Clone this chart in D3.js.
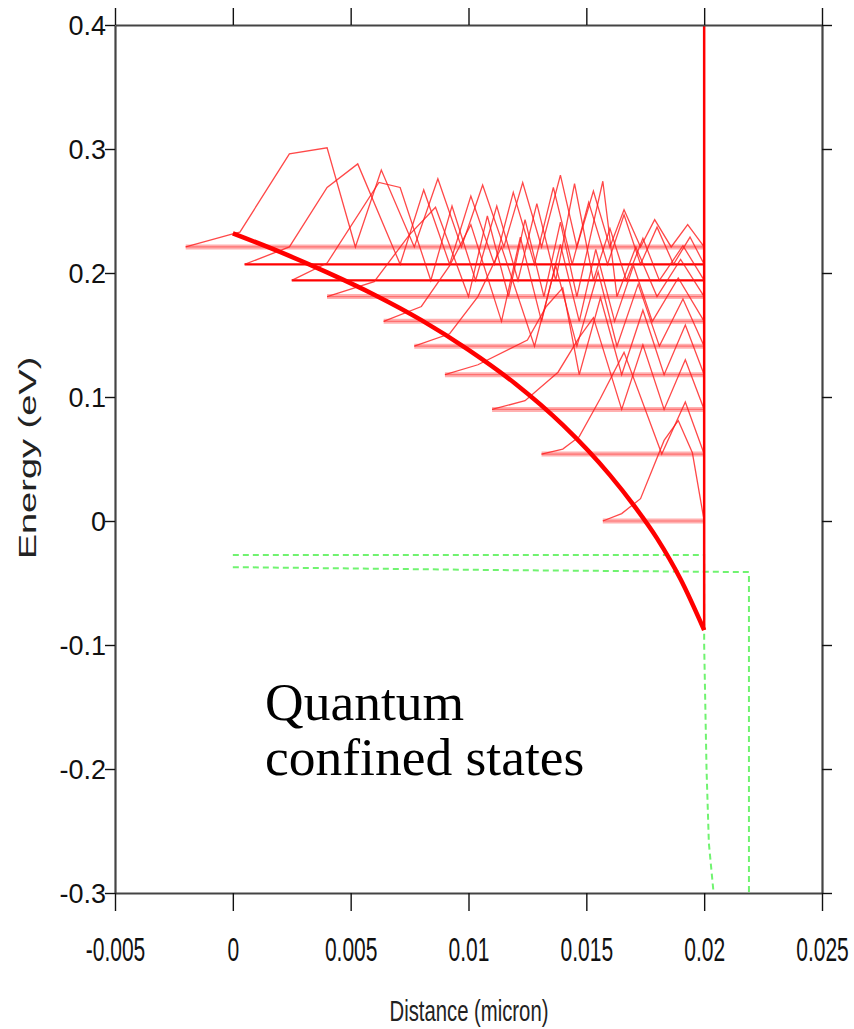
<!DOCTYPE html>
<html><head><meta charset="utf-8">
<script src="https://cdn.jsdelivr.net/npm/d3@7"></script>
<style>body{margin:0;background:#fff}svg{display:block}</style>
</head><body><svg id="c" width="854" height="1029"></svg>
<script>
// ---- axes ----
const xTicks = [-0.005, 0, 0.005, 0.01, 0.015, 0.02, 0.025];
const xTickLabels = ["-0.005", "0", "0.005", "0.01", "0.015", "0.02", "0.025"];
const yTicks = [0.4, 0.3, 0.2, 0.1, 0, -0.1, -0.2, -0.3];
const yTickLabels = ["0.4", "0.3", "0.2", "0.1", "0", "-0.1", "-0.2", "-0.3"];
const xTitle = "Distance (micron)";
const yTitle = "Energy (eV)";
const noteLines = ["Quantum", "confined states"];

// ---- conduction band edge (thick red) ----
const bandX = [0, 0.002, 0.004, 0.006, 0.008, 0.010, 0.012, 0.014, 0.016, 0.017, 0.018, 0.019, 0.020];
const bandE = [0.232, 0.217, 0.2005, 0.1825, 0.162, 0.138, 0.1105, 0.0775, 0.037, 0.013, -0.014, -0.047, -0.088];
const wallX = [0.02, 0.02];
const wallE = [-0.088, 0.4];

// ---- confined state energies and left ends ----
const levelE = [0.000, 0.054, 0.090, 0.118, 0.141, 0.161, 0.181, 0.194, 0.207, 0.221];
const levelStart = [0.0157, 0.0131, 0.0110, 0.0090, 0.0077, 0.0064, 0.0040, 0.0025, 0.0005, -0.0020];
const levelStrong = [false, false, false, false, false, false, false, true, true, false];

// ---- wavefunction |psi|^2 (x in micron, amplitude above level in eV) ----
const waveX = [
  [0.0157,0.0165,0.0173,0.0183,0.0189,0.0195,0.0200],
  [0.0131,0.0140,0.0147,0.0156,0.0166,0.0182,0.0192,0.0200],
  [0.0110,0.0124,0.0138,0.0147,0.0153,0.0165,0.0174,0.0183,0.0192,0.0200],
  [0.0090,0.0104,0.0125,0.0133,0.0140,0.0147,0.0156,0.0165,0.0174,0.0183,0.0192,0.0200],
  [0.0077,0.0092,0.0104,0.0114,0.0128,0.0137,0.0146,0.0155,0.0163,0.0172,0.0181,0.0191,0.0200],
  [0.0064,0.0080,0.0092,0.0101,0.0114,0.0122,0.0131,0.0139,0.0147,0.0154,0.0162,0.0170,0.0178,0.0189,0.0200],
  [0.0040,0.0060,0.0075,0.0086,0.0100,0.0108,0.0117,0.0124,0.0132,0.0139,0.0146,0.0157,0.0163,0.0171,0.0180,0.0190,0.0200],
  [0.0025,0.0040,0.0062,0.0071,0.0084,0.0093,0.0103,0.0112,0.0121,0.0129,0.0137,0.0145,0.0153,0.0160,0.0167,0.0174,0.0181,0.0191,0.0200],
  [0.0005,0.0024,0.0040,0.0053,0.0071,0.0081,0.0092,0.0101,0.0111,0.0119,0.0128,0.0136,0.0144,0.0151,0.0159,0.0166,0.0173,0.0180,0.0187,0.0194,0.0200],
  [-0.0020,0.0000,0.0003,0.0024,0.0040,0.0052,0.0063,0.0077,0.0087,0.0097,0.0106,0.0115,0.0123,0.0131,0.0139,0.0146,0.0153,0.0160,0.0166,0.0173,0.0179,0.0186,0.0193,0.0200]
];
const waveAmp = [
  [0,0.006,0.018,0.065,0.081,0.055,0],
  [0,0.004,0.014,0.045,0.082,0,0.042,0],
  [0,0.007,0.030,0.058,0.074,0,0.052,0,0.040,0],
  [0,0.008,0.028,0.055,0.070,0,0.062,0,0.052,0,0.040,0],
  [0,0.010,0.040,0.080,0,0.065,0,0.060,0,0.050,0,0.038,0],
  [0,0.012,0.045,0.078,0,0.068,0,0.062,0,0.058,0,0.045,0,0.035,0],
  [0,0.012,0.050,0.072,0,0.065,0,0.062,0,0.060,0,0.093,0,0.040,0,0.030,0],
  [0,0.014,0.079,0.075,0,0.060,0,0.060,0,0.062,0,0.078,0,0.042,0,0.034,0,0.028,0],
  [0,0.014,0.062,0.081,0,0.060,0,0.055,0,0.058,0,0.062,0,0.050,0,0.040,0,0.030,0,0.022,0],
  [0,0.0105,0.012,0.075,0.080,0,0.062,0,0.055,0,0.050,0,0.052,0,0.058,0,0.045,0,0.030,0,0.022,0,0.018,0]
];

// ---- green dashed ----
const greenAX = [0, 0.02, 0.02, 0.0201, 0.0202, 0.0204];
const greenAE = [-0.0275, -0.0275, -0.10, -0.20, -0.26, -0.30];
const greenBX = [0, 0.0109, 0.0219, 0.0219];
const greenBE = [-0.0372, -0.0395, -0.0412, -0.30];

const svg = d3.select("#c");
const L = 115, R = 822, T = 25, B = 893;
const x = d3.scaleLinear().domain([-0.005, 0.025]).range([L, R]);
const y = d3.scaleLinear().domain([-0.3, 0.4]).range([B, T]);
const line = d3.line().x(d => x(d[0])).y(d => y(d[1]));
const zip = (a, b) => a.map((v, i) => [v, b[i]]);

svg.append("defs").append("clipPath").attr("id", "clip")
  .append("rect").attr("x", L).attr("y", T).attr("width", R - L).attr("height", B - T);
const plot = svg.append("g").attr("clip-path", "url(#clip)");

// green dashed
[[greenAX, greenAE], [greenBX, greenBE]].forEach(([gx, ge]) => {
  plot.append("path").attr("d", line(zip(gx, ge)))
    .attr("fill", "none").attr("stroke", "#33ee33").attr("stroke-opacity", 0.7)
    .attr("stroke-width", 2).attr("stroke-dasharray", "6,4");
});

// level lines
levelE.forEach((e, i) => {
  const pts = [[levelStart[i], e], [0.02, e]];
  if (levelStrong[i]) {
    plot.append("path").attr("d", line(pts)).attr("fill", "none")
      .attr("stroke", "#ff0000").attr("stroke-width", 2.2);
  } else {
    plot.append("path").attr("d", line(pts)).attr("fill", "none")
      .attr("stroke", "#ffb0b0").attr("stroke-width", 5);
    plot.append("path").attr("d", line(pts)).attr("fill", "none")
      .attr("stroke", "#ff7070").attr("stroke-width", 1.2);
  }
});

// wavefunctions
waveX.forEach((xs, i) => {
  const pts = xs.map((v, j) => [v, levelE[i] + waveAmp[i][j]]);
  plot.append("path").attr("d", line(pts)).attr("fill", "none")
    .attr("stroke", "#ff1a1a").attr("stroke-opacity", 0.8).attr("stroke-width", 1.3);
});

// band edge and wall
plot.append("path").attr("d", d3.line().curve(d3.curveMonotoneX).x(d => x(d[0])).y(d => y(d[1]))(zip(bandX, bandE)))
  .attr("fill", "none").attr("stroke", "#ff0000").attr("stroke-width", 4.5);
plot.append("path").attr("d", line(zip(wallX, wallE)))
  .attr("fill", "none").attr("stroke", "#ff0000").attr("stroke-width", 2.5);

// axes
const fmtX = (d, i) => xTickLabels[i];
const fmtY = (d, i) => yTickLabels[i];
function styleAxis(g) {
  g.select(".domain").attr("stroke", "#444").attr("stroke-width", 2.2);
  g.selectAll(".tick line").attr("stroke", "#111").attr("stroke-width", 1.4);
}
svg.append("g").attr("transform", `translate(0,${T})`)
  .call(d3.axisTop(x).tickValues(xTicks).tickFormat("").tickSize(17).tickSizeOuter(0)).call(styleAxis);
svg.append("g").attr("transform", `translate(${R},0)`)
  .call(d3.axisRight(y).tickValues(yTicks).tickFormat("").tickSize(10).tickSizeOuter(0)).call(styleAxis);
const gl = svg.append("g").attr("transform", `translate(${L},0)`)
  .call(d3.axisLeft(y).tickValues(yTicks).tickFormat(fmtY).tickSize(10).tickPadding(0).tickSizeOuter(0)).call(styleAxis);
gl.selectAll(".tick text").attr("font-family", "Liberation Sans, Arial, sans-serif").attr("font-size", 27)
  .attr("fill", "#111").attr("x", -9).attr("dy", "0.36em");
const gb = svg.append("g").attr("transform", `translate(0,${B})`)
  .call(d3.axisBottom(x).tickValues(xTicks).tickFormat(fmtX).tickSize(18).tickPadding(0).tickSizeOuter(0)).call(styleAxis);
gb.selectAll(".tick text").attr("font-family", "Liberation Sans, Arial, sans-serif").attr("font-size", 30)
  .attr("fill", "#111").attr("y", 0).attr("dy", 0)
  .attr("transform", "translate(0,68) scale(0.7,1.08)");

// titles
svg.append("text").attr("transform", `translate(469,1021) scale(0.78,1.1)`)
  .attr("text-anchor", "middle").attr("font-family", "Liberation Sans, Arial, sans-serif")
  .attr("font-size", 26).attr("fill", "#222").text(xTitle);
svg.append("text").attr("transform", `translate(36,458) scale(0.62,1) rotate(-90)`)
  .attr("text-anchor", "middle").attr("font-family", "Liberation Sans, Arial, sans-serif")
  .attr("font-size", 38).attr("fill", "#222").text(yTitle);

// annotation
const note = svg.append("text").attr("font-family", "Liberation Serif, 'DejaVu Serif', serif")
  .attr("font-size", 53.5).attr("fill", "#000");
noteLines.forEach((t, i) => note.append("tspan").attr("x", 265).attr("y", 720 + i * 55).text(t));
</script></body></html>
